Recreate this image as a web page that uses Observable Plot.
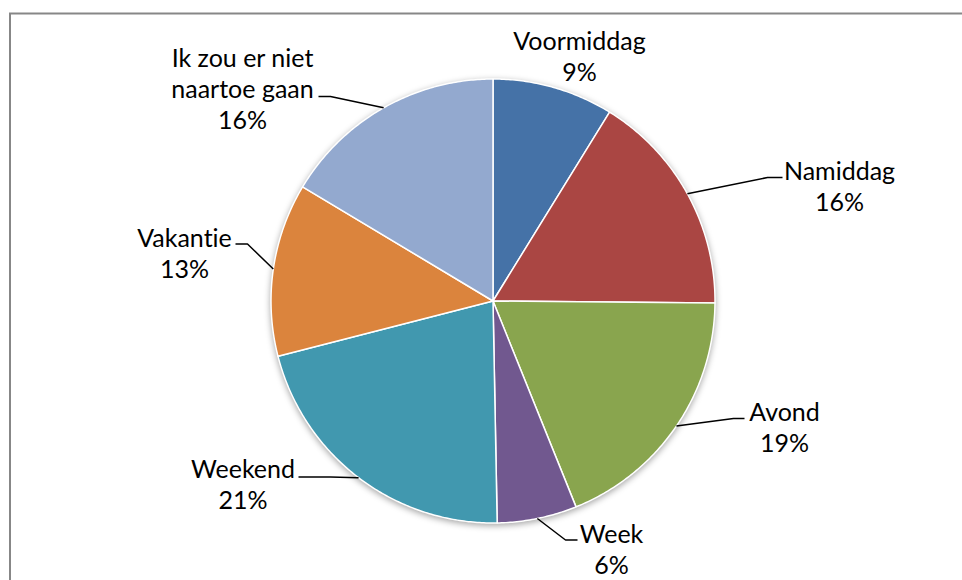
<!DOCTYPE html>
<html><head><meta charset="utf-8">
<script src="https://cdn.jsdelivr.net/npm/d3@7"></script>
<script src="https://cdn.jsdelivr.net/npm/@observablehq/plot@0.6"></script>
<style>html,body{margin:0;padding:0;background:#fff}#chart svg{display:block}#chart text{font-variant-ligatures:none;font-feature-settings:"liga" 0}</style>
</head><body><div id="chart"></div>
<script>
// ---- data ----
const categories = ["Voormiddag", "Namiddag", "Avond", "Week", "Weekend", "Vakantie", "Ik zou er niet\nnaartoe gaan"];
const values = [8.8, 16.35, 18.75, 5.8, 21.3, 12.6, 16.4];
const colors = ["#4572A7", "#AA4643", "#89A54E", "#71588F", "#4198AF", "#DB843D", "#93A9CF"];

// ---- layout (pixels) ----
const W = 962, H = 580;
const cx = 492.5, cy = 300.5, R = 222;
// label anchor: text centre x, last baseline y; leader elbow and end
const labelLayout = [
  {tx: 579, ty: 80, leader: null},
  {tx: 839, ty: 210, leader: [[767, 177], [782, 177]]},
  {tx: 784, ty: 451, leader: [[733, 418], [744, 418]]},
  {tx: 611, ty: 573, leader: [[565, 539.5], [577, 539.5]]},
  {tx: 242.5, ty: 508, leader: [[330, 476.5], [298, 476.5]]},
  {tx: 184, ty: 277, leader: [[247, 243.5], [235, 243.5]]},
  {tx: 242, ty: 128, leader: [[330, 96], [318, 96]]}
];

const total = d3.sum(values);
const arcs = d3.pie().sort(null).value(d => d)(values);
const px = a => cx + R * Math.sin(a);
const py = a => cy - R * Math.cos(a);

// slice polygons
const slicePts = [];
arcs.forEach((a, i) => {
  const name = categories[i];
  slicePts.push({name, x: cx, y: cy});
  const n = Math.max(2, Math.ceil((a.endAngle - a.startAngle) / 0.01));
  for (let k = 0; k <= n; k++) {
    const t = a.startAngle + (a.endAngle - a.startAngle) * k / n;
    slicePts.push({name, x: px(t), y: py(t)});
  }
});

// leader lines
const leaderPts = [];
arcs.forEach((a, i) => {
  const L = labelLayout[i].leader;
  if (!L) return;
  const m = (a.startAngle + a.endAngle) / 2;
  leaderPts.push({name: categories[i], x: px(m), y: py(m)});
  L.forEach(([x, y]) => leaderPts.push({name: categories[i], x, y}));
});

const labels = categories.map((c, i) => ({
  text: c + "\n" + Math.round(values[i] / total * 100) + "%",
  x: labelLayout[i].tx, y: labelLayout[i].ty
}));

const fs = 25;
const chart = Plot.plot({
  width: W, height: H, margin: 0,
  x: {domain: [0, W], range: [0, W], axis: null},
  y: {domain: [0, H], range: [0, H], axis: null},
  color: {domain: categories, range: colors},
  style: {background: "#fff"},
  marks: [
    Plot.frame({stroke: "#878787", strokeWidth: 2, insetLeft: 9.5, insetTop: 13, insetRight: -10, insetBottom: -10}),
    Plot.line(slicePts, {x: "x", y: "y", z: "name", fill: "name", stroke: "#fff", strokeWidth: 1.5, curve: "linear-closed", strokeLinejoin: "round"}),
    Plot.line(leaderPts, {x: "x", y: "y", z: "name", stroke: "#000", strokeWidth: 1.5, strokeLinejoin: "miter", strokeLinecap: "butt"}),
    Plot.text(labels, {x: "x", y: "y", text: "text", lineAnchor: "bottom", lineHeight: 31 / fs, fontSize: fs, fontFamily: "Lato, 'Open Sans', sans-serif", fill: "#000", textAnchor: "middle"})
  ]
});
const g = chart.querySelectorAll('g[aria-label="line"]')[0];
if (g) g.style.filter = "drop-shadow(0px 2px 3px rgba(0,0,0,0.35))";
document.getElementById("chart").append(chart);
</script></body></html>
